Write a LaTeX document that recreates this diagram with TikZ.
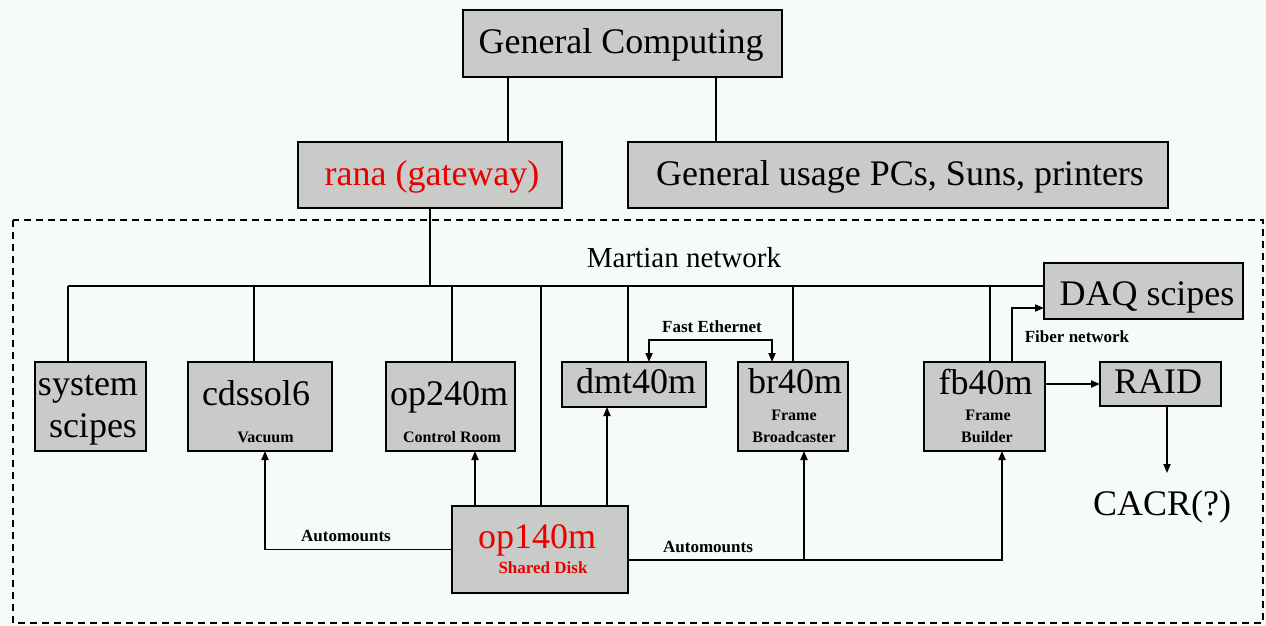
\documentclass[tikz,border=0pt]{standalone}
\usepackage{fontspec}
\setmainfont{Liberation Serif}
\usetikzlibrary{arrows.meta}
\definecolor{boxgray}{RGB}{200,203,200}
\definecolor{bgcol}{RGB}{246,250,248}
\definecolor{redtxt}{RGB}{235,0,0}
\begin{document}
\begin{tikzpicture}[x=1pt,y=-1pt,
  box/.style={draw=black,line width=2pt,fill=boxgray,inner sep=0pt,outer sep=0pt,anchor=north west},
  big/.style={font=\fontsize{36}{40}\selectfont,inner sep=0pt,anchor=base},
  mid/.style={font=\fontsize{29}{32}\selectfont,inner sep=0pt,anchor=base},
  small/.style={font=\fontsize{17}{19}\selectfont\bfseries,inner sep=0pt,anchor=base},
  wire/.style={line width=1.8pt},
  thinwire/.style={line width=1.5pt},
  arr/.style={wire,-{Triangle[length=9pt,width=7pt]}},
  darr/.style={wire,{Triangle[length=9pt,width=7pt]}-{Triangle[length=9pt,width=7pt]}},
  region/.style={line width=1.6pt,dash pattern=on 7pt off 5pt}]
\fill[bgcol] (0,0) rectangle (1266,626);
\useasboundingbox (0,0) rectangle (1266,626);

% dashed region
\draw[region] (13,220) rectangle (1263,623);

% boxes
\node[box,minimum width=319pt,minimum height=67pt] (gc) at (463,10) {};
\node[box,minimum width=264pt,minimum height=66pt] (rana) at (298,142) {};
\node[box,minimum width=540pt,minimum height=66pt] (gen) at (628,142) {};
\node[box,minimum width=199pt,minimum height=56pt] (daq) at (1044,263) {};
\node[box,minimum width=111pt,minimum height=89pt] (sys) at (35,362) {};
\node[box,minimum width=144pt,minimum height=89pt] (cds) at (188,362) {};
\node[box,minimum width=129pt,minimum height=89pt] (op2) at (386,362) {};
\node[box,minimum width=144pt,minimum height=45pt] (dmt) at (562,362) {};
\node[box,minimum width=110pt,minimum height=89pt] (br) at (738,362) {};
\node[box,minimum width=121pt,minimum height=89pt] (fb) at (924,362) {};
\node[box,minimum width=121pt,minimum height=44pt] (raid) at (1100,362) {};
\node[box,minimum width=176pt,minimum height=87pt] (op1) at (452,506) {};

% texts
\node[big] (gcT) at (621,53) {General Computing};
\node[big,text=redtxt] (ranaT) at (432,185) {rana (gateway)};
\node[big] (genT) at (900,185) {General usage PCs, Suns, printers};
\node[mid] (mart) at (684,267) {Martian network};
\node[big] (daqT) at (1147,305) {DAQ scipes};
\node[big] (sysT1) at (88,395) {system};
\node[big] (sysT2) at (93,437) {scipes};
\node[big] (cdsT) at (256,405) {cdssol6};
\node[small,font=\fontsize{16}{18}\selectfont\bfseries] (cdsS) at (265.5,442) {Vacuum};
\node[big] (op2T) at (449,405) {op240m};
\node[small,font=\fontsize{16}{18}\selectfont\bfseries] (op2S) at (452,442) {Control Room};
\node[big] (dmtT) at (636,393) {dmt40m};
\node[big] (brT) at (795,393) {br40m};
\node[small,font=\fontsize{16}{18}\selectfont\bfseries] (brS1) at (794,420) {Frame};
\node[small,font=\fontsize{16}{18}\selectfont\bfseries] (brS2) at (794,442) {Broadcaster};
\node[big] (fbT) at (985.5,394) {fb40m};
\node[small,font=\fontsize{16}{18}\selectfont\bfseries] (fbS1) at (988,420) {Frame};
\node[small,font=\fontsize{16}{18}\selectfont\bfseries] (fbS2) at (987,442) {Builder};
\node[big] (raidT) at (1158,393) {RAID};
\node[big] (cacr) at (1162,515) {CACR(?)};
\node[big,text=redtxt] (op1T) at (537,548) {op140m};
\node[small,text=redtxt] (op1S) at (543,573) {Shared Disk};
\node[small] (fe) at (712,332) {Fast Ethernet};
\node[small] (fiber) at (1077,342) {Fiber network};
\node[small] (autoL) at (346,541) {Automounts};
\node[small] (autoR) at (708,552) {Automounts};

% helper coordinates
\coordinate (xa) at (508,0);
\coordinate (xb) at (716,0);
\coordinate (busL) at (68,286);
\coordinate (xcds) at (254,0);
\coordinate (xop2) at (452,0);
\coordinate (xop1) at (541,0);
\coordinate (xdmt) at (628,0);
\coordinate (xbr) at (793,0);
\coordinate (xfb) at (990,0);
\coordinate (xa2) at (475,0);
\coordinate (xa3) at (607,0);
\coordinate (xcdsin) at (265,0);
\coordinate (xbrin) at (804,0);
\coordinate (xfbin) at (1002,0);
\coordinate (feL) at (649,340);
\coordinate (feR) at (772,340);
\coordinate (fibS) at (1012,308);
\coordinate (autoRt) at (628,560);
\coordinate (cacrin) at (1167,473);

% top connectors
\draw[thinwire] (xa |- gc.south) -- (xa |- rana.north);
\draw[thinwire] (xb |- gc.south) -- (xb |- gen.north);

% bus
\draw[wire] (rana.south) -- (rana.south |- busL);
\draw[wire] (busL) -- (daq.west |- busL);
\draw[wire] (busL) -- (busL |- sys.north);
\draw[wire] (xcds |- busL) -- (xcds |- cds.north);
\draw[wire] (xop2 |- busL) -- (xop2 |- op2.north);
\draw[wire] (xop1 |- busL) -- (xop1 |- op1.north);
\draw[wire] (xdmt |- busL) -- (xdmt |- dmt.north);
\draw[wire] (xbr |- busL) -- (xbr |- br.north);
\draw[wire] (xfb |- busL) -- (xfb |- fb.north);

% op140m arrows
\draw[arr] (xa2 |- op1.north) -- (xa2 |- op2.south);
\draw[arr] (xa3 |- op1.north) -- (xa3 |- dmt.south);
\draw[arr] (op1.west) -| (xcdsin |- cds.south);
\draw[arr] (autoRt) -| (xfbin |- fb.south);
\draw[arr] (xbrin |- autoRt) -- (xbrin |- br.south);

% fast ethernet
\draw[darr] (feL |- dmt.north) -- (feL) -- (feR) -- (feR |- br.north);

% fiber network
\draw[arr] (fibS |- fb.north) |- (daq.west |- fibS);

% fb -> raid -> cacr
\draw[arr] (raid.west -| fb.east) -- (raid.west);
\draw[arr] (raid.south -| cacrin) -- (cacrin);
\end{tikzpicture}
\end{document}
